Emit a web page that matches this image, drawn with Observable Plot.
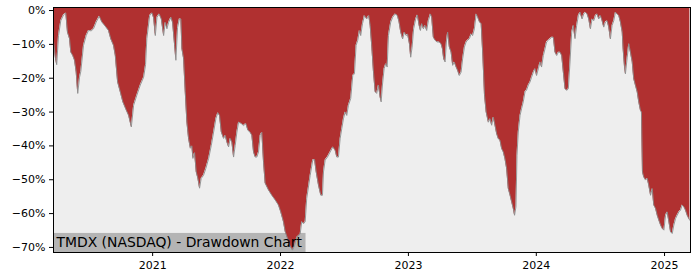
<!DOCTYPE html>
<html>
<head>
<meta charset="utf-8">
<script src="https://cdn.jsdelivr.net/npm/d3@7"></script>
<script src="https://cdn.jsdelivr.net/npm/@observablehq/plot@0.6"></script>
<style>
  html, body { margin: 0; padding: 0; background: #ffffff; }
  #chart { width: 700px; height: 280px; }
</style>
</head>
<body>
<div id="chart"></div>
<script>
// Dates as decimal years, drawdown in percent
const years = [
  2020.227,2020.242,2020.252,2020.266,2020.284,2020.305,2020.323,2020.336,2020.352,2020.362,
  2020.377,2020.391,2020.404,2020.416,2020.430,2020.440,2020.461,2020.482,2020.500,2020.521,
  2020.539,2020.560,2020.584,2020.604,2020.630,2020.656,2020.674,2020.695,2020.709,2020.727,
  2020.748,2020.768,2020.795,2020.813,2020.834,2020.852,2020.877,2020.904,2020.930,2020.945,
  2020.955,2020.977,2020.995,2021.008,2021.021,2021.034,2021.051,2021.068,2021.086,2021.099,
  2021.112,2021.125,2021.143,2021.156,2021.172,2021.182,2021.195,2021.209,2021.221,2021.229,
  2021.242,2021.255,2021.268,2021.281,2021.295,2021.307,2021.315,2021.328,2021.341,2021.354,
  2021.367,2021.380,2021.398,2021.416,2021.438,2021.459,2021.477,2021.495,2021.510,2021.523,
  2021.537,2021.555,2021.568,2021.580,2021.594,2021.607,2021.620,2021.633,2021.646,2021.659,
  2021.672,2021.693,2021.711,2021.729,2021.745,2021.763,2021.776,2021.789,2021.802,2021.815,
  2021.828,2021.841,2021.854,2021.867,2021.880,2021.906,2021.932,2021.959,2021.984,2022.002,
  2022.023,2022.037,2022.055,2022.074,2022.094,2022.109,2022.127,2022.154,2022.166,2022.180,
  2022.193,2022.205,2022.232,2022.252,2022.266,2022.279,2022.297,2022.315,2022.328,2022.336,
  2022.349,2022.367,2022.388,2022.409,2022.427,2022.440,2022.453,2022.466,2022.479,2022.492,
  2022.505,2022.518,2022.531,2022.549,2022.565,2022.578,2022.591,2022.604,2022.617,2022.627,
  2022.641,2022.656,2022.674,2022.690,2022.701,2022.713,2022.727,2022.740,2022.752,2022.766,
  2022.779,2022.787,2022.797,2022.810,2022.823,2022.834,2022.844,2022.862,2022.877,2022.896,
  2022.914,2022.927,2022.940,2022.955,2022.969,2022.982,2022.994,2023.008,2023.018,2023.029,
  2023.041,2023.057,2023.070,2023.084,2023.094,2023.104,2023.117,2023.130,2023.143,2023.156,
  2023.172,2023.182,2023.195,2023.209,2023.224,2023.240,2023.255,2023.266,2023.276,2023.287,
  2023.297,2023.307,2023.320,2023.334,2023.346,2023.359,2023.373,2023.385,2023.398,2023.412,
  2023.424,2023.438,2023.451,2023.463,2023.477,2023.490,2023.502,2023.516,2023.530,2023.542,
  2023.556,2023.569,2023.582,2023.595,2023.608,2023.625,2023.638,2023.651,2023.664,2023.677,
  2023.690,2023.703,2023.716,2023.729,2023.742,2023.755,2023.768,2023.781,2023.795,2023.807,
  2023.820,2023.830,2023.841,2023.849,2023.859,2023.873,2023.885,2023.898,2023.912,2023.924,
  2023.938,2023.951,2023.963,2023.977,2023.990,2024.002,2024.016,2024.029,2024.041,2024.055,
  2024.068,2024.080,2024.094,2024.107,2024.120,2024.133,2024.146,2024.159,2024.172,2024.185,
  2024.198,2024.211,2024.224,2024.237,2024.250,2024.263,2024.276,2024.289,2024.302,2024.315,
  2024.328,2024.341,2024.357,2024.370,2024.383,2024.396,2024.409,2024.422,2024.435,2024.448,
  2024.461,2024.474,2024.487,2024.500,2024.513,2024.526,2024.539,2024.552,2024.565,2024.578,
  2024.591,2024.604,2024.617,2024.630,2024.643,2024.656,2024.670,2024.677,2024.688,2024.695,
  2024.709,2024.721,2024.734,2024.748,2024.760,2024.773,2024.787,2024.799,2024.812,2024.820,
  2024.828,2024.838,2024.852,2024.865,2024.877,2024.891,2024.904,2024.916,2024.930,2024.943,
  2024.955,2024.969,2024.982,2024.995,2025.008,2025.021,2025.034,2025.047,2025.060,2025.073,
  2025.086,2025.099,2025.112,2025.125,2025.138,2025.151,2025.164,2025.177,2025.190,2025.198
];
const drawdown = [
  -9,-14,-16,-7.4,-3,-1.3,-0.7,-6.4,-8.3,-12.3,
  -13.3,-14.7,-18.2,-24.5,-19.7,-18,-10.3,-7.4,-5.9,-6,
  -5.4,-3.4,-1.7,-3.4,-4.6,-5.9,-8.4,-10.3,-13.3,-21.1,
  -24.1,-27,-29.5,-31,-34.4,-28,-25,-22,-19.7,-16,
  -8.3,-1.5,-0.7,-2.2,-7.4,-2,-1,-2.5,-7.4,-3.5,
  -5.4,-3.5,-2,-3.5,-10.3,-14.7,-5,-2.5,-2.5,-11.3,
  -14.2,-24,-33,-37.8,-40.7,-40,-43.7,-42,-47.7,-49.6,
  -52.5,-49.6,-48.7,-46.7,-43.7,-39.8,-35.9,-31.9,-30.2,-31,
  -35.9,-37.8,-36.9,-38.8,-40.3,-37.8,-39,-43.3,-39.8,-35.9,
  -33,-33.4,-34,-33.4,-35.4,-36,-36.9,-41.8,-43.3,-43.3,
  -41.8,-36.9,-36,-44.7,-51,-53,-54.6,-56,-57.5,-59.5,
  -62.4,-65.4,-67.3,-69.5,-70.8,-69.5,-67,-66,-62.4,-63,
  -62.4,-55.5,-48.7,-44.2,-44,-47.7,-51.6,-54.6,-54.6,-47.7,
  -44.2,-43.3,-41.8,-40.3,-41.3,-43.3,-43.3,-37.9,-34.9,-32,
  -30,-31,-28,-26,-19.2,-18.7,-10.3,-8.8,-5.9,-7.4,
  -3.9,-1.5,-2.5,-1.5,-4.4,-10.3,-18.2,-24,-24.5,-22,
  -25.6,-27,-22,-17.2,-15.7,-16.7,-7.4,-3.4,-2,-1,
  -1.5,-3.4,-6.4,-8.4,-6.4,-7.4,-7,-9.8,-13.8,-10.8,
  -5.4,-2.5,-1.3,-4.4,-5.9,-3.9,-5.4,-4.4,-5.9,-3,
  -1,-2,-7.9,-8.8,-9.3,-9.3,-9.8,-11.3,-14.3,-15.2,
  -9.3,-6.4,-10.8,-12.3,-16.2,-15.2,-16.7,-17.7,-19.2,-18.2,
  -14.3,-10.8,-9.3,-8.8,-8.3,-6.9,-7.4,-5.4,-1,-2,
  -3.4,-3.9,-13.3,-25,-30,-33,-32,-33.9,-31.5,-33.9,
  -36.4,-37.9,-38.3,-40.8,-41.8,-43.8,-46.7,-52.6,-54.6,-56.5,
  -58.5,-60.5,-58,-42.8,-35.9,-31,-29,-27,-24,-23.5,
  -22,-21.1,-19.7,-18.2,-17.2,-19.2,-17.2,-15.2,-16.7,-13.3,
  -11.3,-9.3,-8.8,-8.3,-7.9,-7.9,-12.3,-13.3,-12.3,-12.3,
  -13.3,-18.2,-23.1,-23.6,-23.1,-15.2,-6.4,-4.4,-8.3,-4.4,
  -1.5,-0.5,-2.5,-1,-0.5,-1,-2.5,-5.4,-2.5,-3,
  -1.5,-1,-2.5,-1.5,-3,-4.9,-3.4,-3,-4.9,-8.4,
  -4.4,-3,-0.5,-1,-1.5,-3.4,-6.4,-11.3,-16.7,-18.7,
  -13.8,-9.8,-12.3,-15.2,-20.2,-22.1,-24.1,-27,-29.5,-30,
  -47.7,-49.2,-50.1,-49.6,-51.6,-54.6,-52.6,-57.5,-58.5,-60.5,
  -61.9,-63.4,-64.4,-64.9,-60.5,-59.5,-62.4,-65.4,-65.9,-63.4,
  -61.5,-60.5,-59.5,-59,-57.5,-58,-59,-60.5,-61.5,-62
];
const xRangeYears = [2020.227, 2025.203];
const yRange = [-71.5, 0.9];
const yTicks = [0, -10, -20, -30, -40, -50, -60, -70];
const xTickYears = [2021, 2022, 2023, 2024, 2025];
const labelText = "TMDX (NASDAQ) - Drawdown Chart";

function yearToDate(y) {
  const yr = Math.floor(y);
  const s = Date.UTC(yr, 0, 1), e = Date.UTC(yr + 1, 0, 1);
  return new Date(s + (y - yr) * (e - s));
}

const data = years.map((y, i) => ({date: yearToDate(y), dd: drawdown[i], top: yRange[1]}));

const M = {left: 53, right: 10, top: 7, bottom: 28};
const chart = Plot.plot({
  width: 700,
  height: 280,
  marginLeft: M.left,
  marginRight: M.right,
  marginTop: M.top,
  marginBottom: M.bottom,
  style: {fontFamily: "DejaVu Sans", fontSize: "11px", background: "#ffffff", color: "#000"},
  x: {type: "utc", domain: xRangeYears.map(yearToDate), label: null},
  y: {domain: yRange, label: null},
  marks: [
    Plot.frame({fill: "#eeeeee"}),
    Plot.areaY(data, {x: "date", y1: "dd", y2: "top", fill: "#b03030"}),
    Plot.line(data, {x: "date", y: "dd", stroke: "#8c8c8c", strokeWidth: 0.9}),
    Plot.text([labelText], {frameAnchor: "bottom-left", text: d => d, textAnchor: "start", lineAnchor: "middle",
      dx: 3, dy: -10, fontSize: 13.9, fill: "#000"}),
    Plot.axisY({ticks: yTicks, tickSize: 4, tickPadding: 4, label: null,
      tickFormat: d => (d === 0 ? "0" : "\u2212" + Math.abs(d)) + "%"}),
    Plot.axisX({ticks: xTickYears.map(yearToDate), tickSize: 4, tickPadding: 5, label: null,
      tickFormat: d3.utcFormat("%Y")}),
    Plot.frame({stroke: "#000", strokeWidth: 1})
  ]
});

document.getElementById("chart").appendChild(chart);

// grey box behind the label, sized from the rendered text
const lab = chart.querySelector('g[aria-label="text"] text');
const areaG = chart.querySelector('g[aria-label="area"]');
if (lab && areaG) {
  const sr = chart.getBoundingClientRect();
  const tr = lab.getBoundingClientRect();
  const frameBottom = 280 - M.bottom;
  const x0 = M.left;
  const y0 = tr.top - sr.top - 1;
  const x1 = tr.right - sr.left + 3;
  const rect = document.createElementNS("http://www.w3.org/2000/svg", "rect");
  rect.setAttribute("x", x0);
  rect.setAttribute("y", y0);
  rect.setAttribute("width", x1 - x0);
  rect.setAttribute("height", frameBottom - y0);
  rect.setAttribute("fill", "#b4b4b4");
  areaG.parentNode.insertBefore(rect, areaG);
}
</script>
</body>
</html>
